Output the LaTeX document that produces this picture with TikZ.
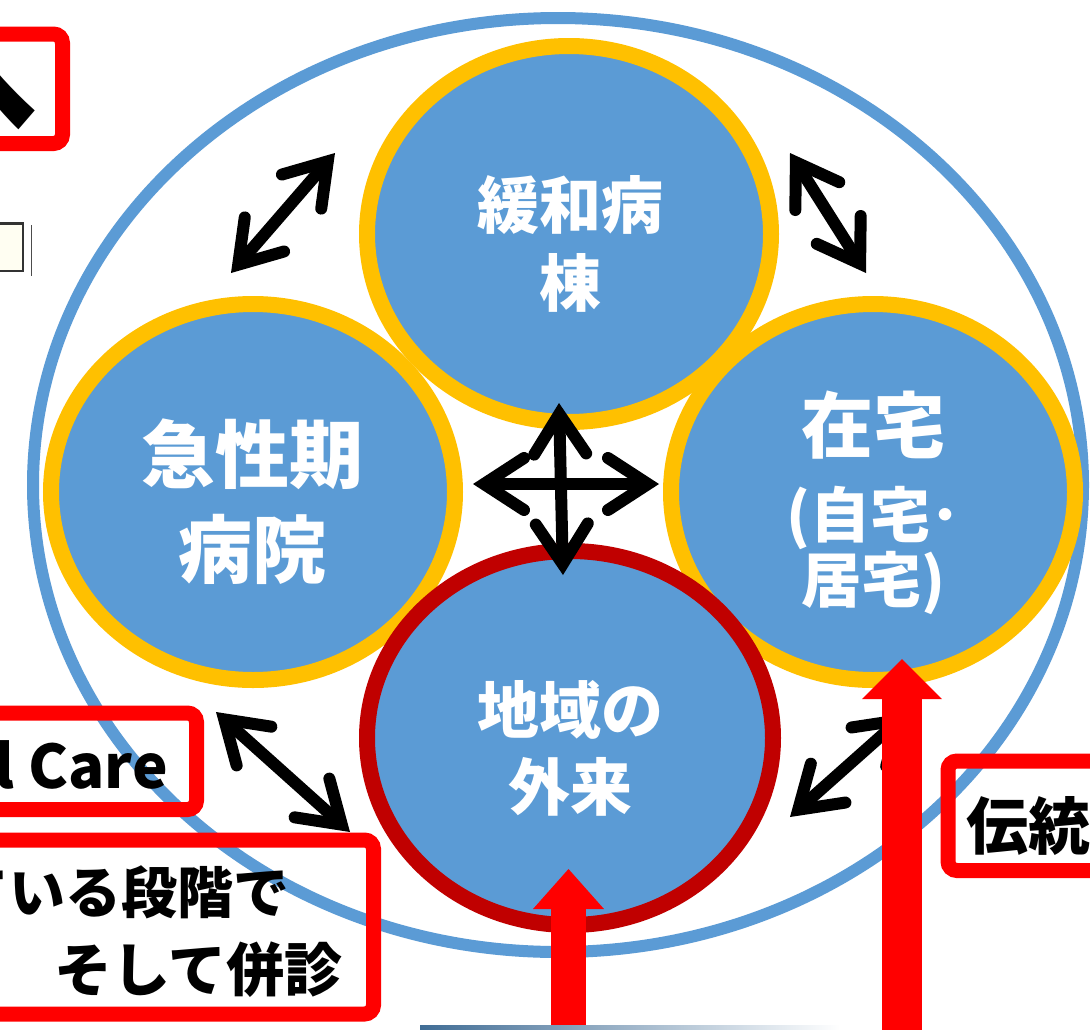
\documentclass[tikz,border=0pt]{standalone}
\usepackage{fontspec}
\usetikzlibrary{arrows.meta,shapes.geometric}
\newfontfamily\jpfont{Noto Sans CJK JP Black}
\definecolor{ppblue}{HTML}{5B9BD5}
\definecolor{ppgold}{HTML}{FFC000}
\definecolor{ppdarkred}{HTML}{C00000}
\definecolor{ppred}{HTML}{FF0000}
\definecolor{ppcream}{HTML}{FFFEF2}
\tikzset{
  >={Straight Barb[length=40pt,width=52pt,line cap=round,line join=miter]},
  place/.style={ellipse,fill=ppblue,draw=ppgold,line width=16pt,
    minimum width=404pt,minimum height=376pt,inner sep=0pt},
  placetext/.style={text=white,align=center,inner sep=0pt},
  link/.style={<->,line width=12pt},
  frame/.style={draw=ppred,line width=15pt,rounded corners=9pt},
  boxtext/.style={text=black,inner sep=0pt}
}
\begin{document}
\begin{tikzpicture}[x=1pt,y=-1pt]
  \useasboundingbox (0,0) rectangle (1090,1029);
  \fill[white] (0,0) rectangle (1090,1029);
  % outer ring
  \draw[ppblue,line width=12pt] (558,485) ellipse [x radius=525, y radius=467];
  % the four places
  \node[place] (kanwa)   at (569,234) {};
  \node[place] (kyusei)  at (253,492) {};
  \node[place] (zaitaku) at (873,492) {};
  \node[place,draw=ppdarkred,minimum width=406pt,minimum height=374pt] (gairai) at (570,738) {};
  \node[placetext,font=\jpfont\fontsize{62}{78}\selectfont] (kanwatext) at (570,244) {緩和病\\棟};
  \node[placetext,font=\jpfont\fontsize{74}{95}\selectfont] (kyuseitext) at (252,502) {急性期\\病院};
  \node[placetext,font=\jpfont\fontsize{72}{72}\selectfont] (zaitakutext) at (873,425) {在宅};
  \node[placetext,font=\jpfont\fontsize{60}{65}\selectfont] (jitakutext) at (873,550) {(自宅･\\居宅)};
  \node[placetext,font=\jpfont\fontsize{62}{77}\selectfont] (gairaitext) at (570,748) {地域の\\外来};
  % links between places
  \coordinate (ulA) at (231,273);    \coordinate (ulB) at (335,153);
  \coordinate (urA) at (790,153);    \coordinate (urB) at (866,273);
  \coordinate (crossW) at (473,484); \coordinate (crossE) at (659,484);
  \coordinate (crossN) at (559,403); \coordinate (crossS) at (563,575);
  \coordinate (llA) at (216,712);    \coordinate (llB) at (350,832);
  \coordinate (lrA) at (790,817);    \coordinate (lrB) at (907,713);
  \draw[link] (ulA) -- (ulB);
  \draw[link] (urA) -- (urB);
  \draw[link] (crossW) -- (crossE);
  \draw[link] (crossN) -- (crossS);
  \draw[link] (llA) -- (llB);
  \draw[link] (lrA) -- (lrB);
  % red arrows from below
  \coordinate (flowA) at (568.5,1060); \coordinate (flowAtip) at (568.5,869);
  \coordinate (flowB) at (902,1060);   \coordinate (flowBtip) at (902,659);
  \draw[ppred,line width=35pt,-{Triangle[length=40pt,width=71pt,line width=0pt]}] (flowA) -- (flowAtip);
  \draw[ppred,line width=40pt,-{Triangle[length=40pt,width=80pt,line width=0pt]}] (flowB) -- (flowBtip);
  % labels in red frames
  \draw[frame] (-60,34) rectangle (62.5,143.5);
  \draw[frame] (-60,713) rectangle (196.5,809.5);
  \draw[frame] (-60,840) rectangle (373.5,1014);
  \draw[frame] (948,761) rectangle (1150,870.5);
  \node[boxtext,anchor=east,font=\jpfont\fontsize{130}{130}\selectfont] (hetext) at (39,85) {へ};
  \node[boxtext,anchor=base east,font=\jpfont\fontsize{60}{60}\selectfont] (caretext) at (168,788) {l Care};
  \node[boxtext,anchor=east,font=\jpfont\fontsize{56}{56}\selectfont] (dankaitext) at (290,892) {ている段階で};
  \node[boxtext,anchor=east,font=\jpfont\fontsize{58}{58}\selectfont] (heishintext) at (343,970) {そして併診};
  \node[boxtext,anchor=west,font=\jpfont\fontsize{62}{62}\selectfont] (dentotext) at (966,826) {伝統};
  % small text box at the left edge
  \draw[line width=2.5pt,draw=black!80,fill=ppcream] (-40,223.5) rectangle (23,271);
  \draw[line width=0.8pt,black!70] (31.5,225) -- (31.5,276);
  % top of the shape below
  \shade[left color=ppblue!70!black,right color=white] (420,1025) rectangle (840,1029);
\end{tikzpicture}
\end{document}
